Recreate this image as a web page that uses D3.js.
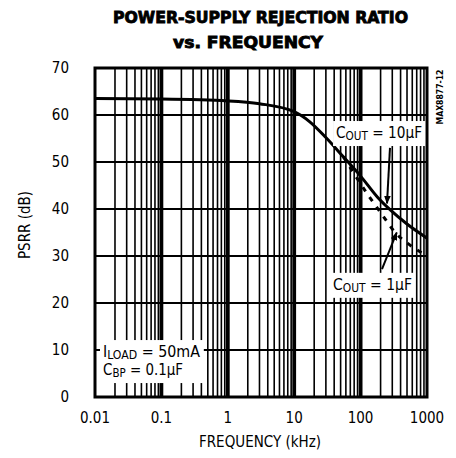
<!DOCTYPE html>
<html>
<head>
<meta charset="utf-8">
<script src="https://cdn.jsdelivr.net/npm/d3@7"></script>
<style>
  html, body { margin: 0; padding: 0; background: #fff; }
  svg { display: block; }
  .lbl { font-family: "Liberation Sans Narrow", "Arial Narrow", "DejaVu Sans Condensed", sans-serif; fill: #000; }
  .ttl { font-family: "DejaVu Sans Condensed", "DejaVu Sans", sans-serif; font-weight: bold; fill: #000; }
</style>
</head>
<body>
<script>
// ---- data ----
const titleLines = ["POWER-SUPPLY REJECTION RATIO", "vs. FREQUENCY"];
const xTickValues = [0.01, 0.1, 1, 10, 100, 1000];
const xTickLabels = ["0.01", "0.1", "1", "10", "100", "1000"];
const yTickValues = [0, 10, 20, 30, 40, 50, 60, 70];
const yTickLabels = ["0", "10", "20", "30", "40", "50", "60", "70"];
const xAxisTitle = "FREQUENCY (kHz)";
const yAxisTitle = "PSRR (dB)";
const sideCode = "MAX8877-12";

// Cout = 10uF (solid)
const freq10uF = [0.01, 0.1, 1, 3, 10, 17, 30, 55, 100, 180, 280, 500, 1000];
const psrr10uF = [63.5, 63.4, 63.0, 62.4, 60.7, 58.6, 55.2, 51.1, 47.0, 42.5, 39.8, 36.8, 33.8];
// Cout = 1uF (dashed, diverges from the 10uF curve above ~50 kHz)
const freq1uF = [55, 80, 129, 183, 250, 330, 500, 1000];
const psrr1uF = [51.1, 47.5, 43.0, 40.0, 37.3, 35.0, 32.8, 30.0];

// annotations (anchor in data units: frequency kHz, dB)
const noteLoad = { f: 0.0132, db: 8.5, widths: [97, 80], lines: [["I", "LOAD", " = 50mA"], ["C", "BP", " = 0.1µF"]] };
const note10 = { f: 42.7, db: 55.1, width: 86, parts: ["C", "OUT", " = 10µF"] };
const note1 = { f: 38.4, db: 22.8, width: 79, parts: ["C", "OUT", " = 1µF"] };
const arrow10 = [{ f: 277, db: 53.0 }, { f: 250, db: 41.2 }];
const arrow1 = [{ f: 210, db: 27.2 }, { f: 350, db: 35.0 }];

// ---- layout ----
const W = 456, H = 458;
const plot = { left: 95, right: 427, top: 68, bottom: 397 };

const svg = d3.select("body").append("svg").attr("width", W).attr("height", H);
const defs = svg.append("defs");
defs.append("marker").attr("id", "ah").attr("viewBox", "0 0 10 10")
  .attr("refX", 9).attr("refY", 5).attr("markerWidth", 4.2).attr("markerHeight", 4.2)
  .attr("markerUnits", "strokeWidth").attr("orient", "auto")
  .append("path").attr("d", "M0,1 L10,5 L0,9 Z").attr("fill", "#000");

const x = d3.scaleLog().domain([0.01, 1000]).range([plot.left, plot.right]);
const y = d3.scaleLinear().domain([0, 70]).range([plot.bottom, plot.top]);

// grid: vertical
const vLines = [];
for (let e = -2; e <= 2; e++) {
  for (let k = 1; k <= 9; k++) vLines.push({ v: k * Math.pow(10, e), major: k === 1 });
}
const g = svg.append("g");
g.selectAll("line.v").data(vLines.filter(d => d.v > 0.01)).join("line")
  .attr("x1", d => x(d.v)).attr("x2", d => x(d.v))
  .attr("y1", y(0)).attr("y2", y(70))
  .attr("stroke", "#000").attr("stroke-width", d => d.major ? 3.8 : 1.6);
g.selectAll("line.h").data(yTickValues.filter(v => v > 0 && v < 70)).join("line")
  .attr("x1", x(0.01)).attr("x2", x(1000))
  .attr("y1", d => y(d)).attr("y2", d => y(d))
  .attr("stroke", "#000").attr("stroke-width", 1.8);

// curves
const line = d3.line().x(d => x(d[0])).y(d => y(d[1])).curve(d3.curveMonotoneX);
svg.append("path").datum(freq1uF.map((f, i) => [f, psrr1uF[i]]))
  .attr("d", line).attr("fill", "none").attr("stroke", "#000")
  .attr("stroke-width", 3).attr("stroke-dasharray", "5,7");
svg.append("path").datum(freq10uF.map((f, i) => [f, psrr10uF[i]]))
  .attr("d", line).attr("fill", "none").attr("stroke", "#000").attr("stroke-width", 3);

// border
svg.append("rect").attr("x", x(0.01)).attr("y", y(70))
  .attr("width", x(1000) - x(0.01)).attr("height", y(0) - y(70))
  .attr("fill", "none").attr("stroke", "#000").attr("stroke-width", 3);

// annotation helpers
function addText(grp, parts, px, py, width) {
  const t = grp.append("text").attr("class", "lbl").attr("x", px).attr("y", py)
    .attr("font-size", 15).attr("textLength", width).attr("lengthAdjust", "spacingAndGlyphs");
  t.append("tspan").text(parts[0]);
  t.append("tspan").attr("font-size", 11.5).attr("dy", 2).text(parts[1]);
  t.append("tspan").attr("dy", -2).text(parts[2]);
  return t;
}
function boxBehind(grp, padX, padY) {
  const bb = grp.node().getBBox();
  grp.insert("rect", ":first-child").attr("x", bb.x - padX).attr("y", bb.y - padY)
    .attr("width", bb.width + 2 * padX).attr("height", bb.height + 2 * padY).attr("fill", "#fff");
}

// ILOAD / CBP note
const gl = svg.append("g");
noteLoad.lines.forEach((parts, i) => {
  addText(gl, parts, x(noteLoad.f), y(noteLoad.db) + i * 18, noteLoad.widths[i]);
});
boxBehind(gl, 3, 3);

const g10 = svg.append("g");
addText(g10, note10.parts, x(note10.f), y(note10.db), note10.width);
boxBehind(g10, 3, 3);
const g1 = svg.append("g");
addText(g1, note1.parts, x(note1.f), y(note1.db), note1.width);
boxBehind(g1, 3, 3);

// arrows
[arrow10, arrow1].forEach(a => {
  svg.append("line").attr("x1", x(a[0].f)).attr("y1", y(a[0].db))
    .attr("x2", x(a[1].f)).attr("y2", y(a[1].db))
    .attr("stroke", "#000").attr("stroke-width", 2).attr("marker-end", "url(#ah)");
});

// axes labels
svg.selectAll("text.xt").data(xTickValues).join("text").attr("class", "lbl")
  .attr("x", d => x(d)).attr("y", 423).attr("text-anchor", "middle").attr("font-size", 15)
  .text((d, i) => xTickLabels[i]);
svg.selectAll("text.yt").data(yTickValues).join("text").attr("class", "lbl")
  .attr("x", 69).attr("y", d => y(d)).attr("dy", "0.36em").attr("text-anchor", "end").attr("font-size", 15)
  .text((d, i) => yTickLabels[i]);

svg.append("text").attr("class", "lbl").attr("x", 260).attr("y", 447)
  .attr("text-anchor", "middle").attr("font-size", 15).text(xAxisTitle);
svg.append("text").attr("class", "lbl")
  .attr("transform", "translate(30,225) rotate(-90)")
  .attr("text-anchor", "middle").attr("font-size", 15).text(yAxisTitle);

// title
svg.append("text").attr("class", "ttl").attr("x", 113).attr("y", 23)
  .attr("font-size", 16).attr("textLength", 295).attr("lengthAdjust", "spacingAndGlyphs")
  .attr("stroke", "#000").attr("stroke-width", 0.8)
  .text(titleLines[0]);
svg.append("text").attr("class", "ttl").attr("x", 173).attr("y", 48)
  .attr("font-size", 16).attr("textLength", 150).attr("lengthAdjust", "spacingAndGlyphs")
  .attr("stroke", "#000").attr("stroke-width", 0.8)
  .text(titleLines[1]);

// side code
svg.append("text").attr("class", "ttl")
  .attr("transform", "translate(443,97) rotate(-90)")
  .attr("text-anchor", "middle").attr("font-size", 9)
  .attr("textLength", 55).attr("lengthAdjust", "spacingAndGlyphs").text(sideCode);
</script>
</body>
</html>
